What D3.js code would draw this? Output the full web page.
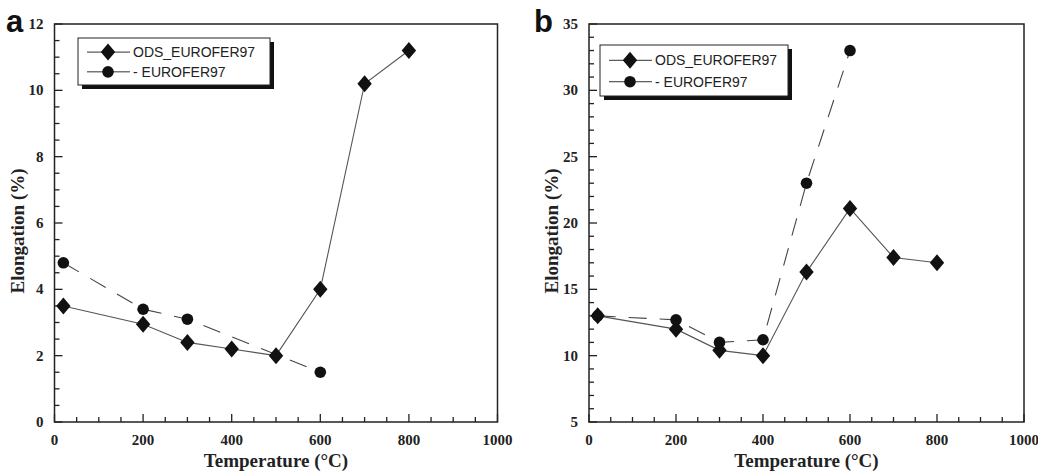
<!DOCTYPE html>
<html>
<head>
<meta charset="utf-8">
<script src="https://cdn.jsdelivr.net/npm/d3@7"></script>
<style>
  body { margin: 0; background: #fff; }
  svg { display: block; }
</style>
</head>
<body>
<div id="chart"></div>
<script>
const svgWidth = 1038;
const svgHeight = 475;

const temps = [20, 200, 300, 400, 500, 600, 700, 800];
const odsA = [3.5, 2.95, 2.4, 2.2, 2.0, 4.0, 10.2, 11.2];
const euroTempsA = [20, 200, 300, 600];
const euroA = [4.8, 3.4, 3.1, 1.5];

const odsB = [13.0, 12.0, 10.4, 10.0, 16.3, 21.1, 17.4, 17.0];
const euroTempsB = [20, 200, 300, 400, 500, 600];
const euroB = [13.0, 12.7, 11.0, 11.2, 23.0, 33.0];

const xTicks = [0, 200, 400, 600, 800, 1000];
const yTicksA = [0, 2, 4, 6, 8, 10, 12];
const yTicksB = [5, 10, 15, 20, 25, 30, 35];
const seriesNames = ["ODS_EUROFER97", "- EUROFER97"];

const svg = d3.select("#chart")
    .append("svg")
    .attr("width", svgWidth)
    .attr("height", svgHeight);

// slightly tall diamond, like the original markers
const diamond = "M0,-8.5L7.2,0L0,8.5L-7.2,0Z";

function drawPanel(opts) {
    const { left, right, top, bottom, yDomain, yTicks, yMinor, ods, euroX, euro, letter, letterX, legend } = opts;

    const x = d3.scaleLinear().domain([0, 1000]).range([left, right]);
    const y = d3.scaleLinear().domain(yDomain).range([bottom, top]);
    const g = svg.append("g");

    // frame
    g.append("rect")
        .attr("x", left).attr("y", top)
        .attr("width", right - left).attr("height", bottom - top)
        .attr("fill", "none").attr("stroke", "#222").attr("stroke-width", 1.5);

    // inward ticks
    const xMinor = d3.range(0, 1001, 50);
    g.selectAll(".xt").data(xMinor).enter().append("line")
        .attr("x1", d => x(d)).attr("x2", d => x(d))
        .attr("y1", bottom).attr("y2", d => bottom - (d % 200 === 0 ? 8 : 5))
        .attr("stroke", "#222").attr("stroke-width", 1.3);

    const yMin = d3.range(yDomain[0], yDomain[1] + 0.001, yMinor);
    g.selectAll(".yt").data(yMin).enter().append("line")
        .attr("y1", d => y(d)).attr("y2", d => y(d))
        .attr("x1", left).attr("x2", d => left + (yTicks.some(t => Math.abs(t - d) < 1e-6) ? 8 : 5))
        .attr("stroke", "#222").attr("stroke-width", 1.3);

    // tick labels
    g.selectAll(".xl").data(xTicks).enter().append("text")
        .attr("x", d => x(d)).attr("y", bottom + 23)
        .attr("text-anchor", "middle")
        .style("font-family", "Liberation Serif, serif").style("font-weight", "bold").style("font-size", "15px")
        .attr("fill", "#222")
        .text(d => d);

    g.selectAll(".yl").data(yTicks).enter().append("text")
        .attr("x", left - 11).attr("y", d => y(d) + 5)
        .attr("text-anchor", "end")
        .style("font-family", "Liberation Serif, serif").style("font-weight", "bold").style("font-size", "15px")
        .attr("fill", "#222")
        .text(d => d);

    // axis titles
    g.append("text")
        .attr("x", (left + right) / 2).attr("y", 467)
        .attr("text-anchor", "middle")
        .style("font-family", "Liberation Serif, serif").style("font-weight", "bold").style("font-size", "19px")
        .attr("fill", "#222")
        .text("Temperature (°C)");

    g.append("text")
        .attr("transform", `translate(${left - 31},${(top + bottom) / 2 + 8}) rotate(-90)`)
        .attr("text-anchor", "middle")
        .style("font-family", "Liberation Serif, serif").style("font-weight", "bold").style("font-size", "19px")
        .attr("fill", "#222")
        .text("Elongation (%)");

    // panel letter
    g.append("text")
        .attr("x", letterX).attr("y", 32)
        .style("font-family", "Liberation Sans, Arial, sans-serif").style("font-weight", "bold").style("font-size", "31px")
        .attr("fill", "#111")
        .text(letter);

    // lines
    const line = d3.line().x(d => x(d[0])).y(d => y(d[1]));
    const euroPts = euroX.map((t, i) => [t, euro[i]]);
    const odsPts = temps.map((t, i) => [t, ods[i]]);

    g.append("path").datum(euroPts)
        .attr("d", line).attr("fill", "none")
        .attr("stroke", "#444").attr("stroke-width", 1.1)
        .attr("stroke-dasharray", "18,13");

    g.append("path").datum(odsPts)
        .attr("d", line).attr("fill", "none")
        .attr("stroke", "#555").attr("stroke-width", 1.1);

    g.selectAll(".ec").data(euroPts).enter().append("circle")
        .attr("cx", d => x(d[0])).attr("cy", d => y(d[1]))
        .attr("r", 5.8).attr("fill", "#111");

    g.selectAll(".od").data(odsPts).enter().append("path")
        .attr("d", diamond)
        .attr("transform", d => `translate(${x(d[0])},${y(d[1])})`)
        .attr("fill", "#111");

    // legend
    const L = legend;
    g.append("rect")
        .attr("x", L.x + 4).attr("y", L.y + 4).attr("width", L.w).attr("height", L.h)
        .attr("fill", "#111");
    g.append("rect")
        .attr("x", L.x).attr("y", L.y).attr("width", L.w).attr("height", L.h)
        .attr("fill", "#fff").attr("stroke", "#222").attr("stroke-width", 1);

    seriesNames.forEach((name, i) => {
        const ly = L.y + L.h * (i === 0 ? 0.3 : 0.72);
        g.append("line")
            .attr("x1", L.x + 9).attr("x2", L.x + 52)
            .attr("y1", ly).attr("y2", ly)
            .attr("stroke", "#333").attr("stroke-width", 1);
        if (i === 0) {
            g.append("path").attr("d", diamond)
                .attr("transform", `translate(${L.x + 30},${ly})`).attr("fill", "#111");
        } else {
            g.append("circle").attr("cx", L.x + 30).attr("cy", ly).attr("r", 5.8).attr("fill", "#111");
        }
        g.append("text")
            .attr("x", L.x + 55).attr("y", ly + 5)
            .style("font-family", "Liberation Sans, Arial, sans-serif").style("font-size", "14px")
            .attr("fill", "#222")
            .text(name);
    });
}

drawPanel({
    left: 54.5, right: 497.5, top: 24, bottom: 422,
    yDomain: [0, 12], yTicks: yTicksA, yMinor: 0.5,
    ods: odsA, euroX: euroTempsA, euro: euroA,
    letter: "a", letterX: 6,
    legend: { x: 78, y: 38, w: 192, h: 47 }
});

drawPanel({
    left: 589, right: 1024, top: 24, bottom: 422,
    yDomain: [5, 35], yTicks: yTicksB, yMinor: 1,
    ods: odsB, euroX: euroTempsB, euro: euroB,
    letter: "b", letterX: 534,
    legend: { x: 600, y: 45, w: 188, h: 51 }
});
</script>
</body>
</html>
